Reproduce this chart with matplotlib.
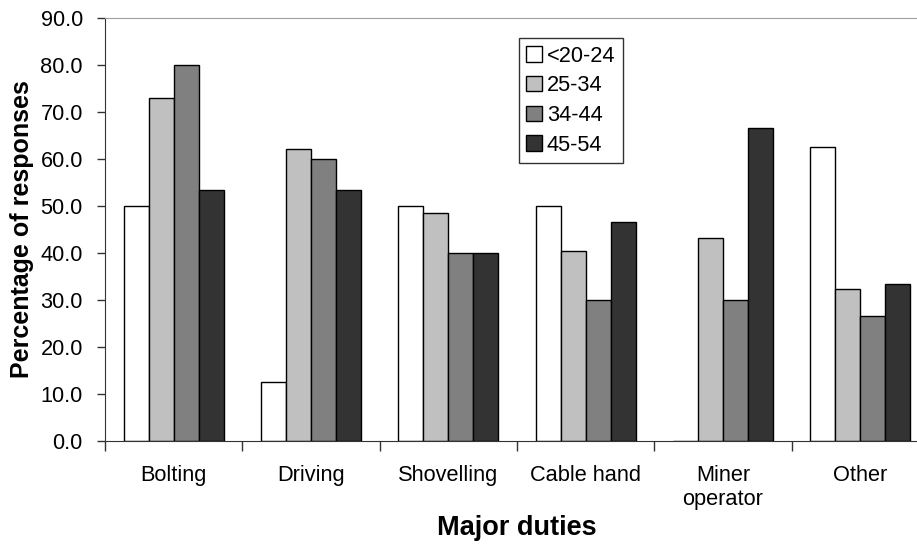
import numpy as np
import matplotlib
matplotlib.use("Agg")
import matplotlib.pyplot as plt

# responses by major duty and age group (%)
duties = ["Bolting", "Driving", "Shovelling", "Cable hand", "Miner\noperator", "Other"]
age_groups = ["<20-24", "25-34", "34-44", "45-54"]
age_20_24 = [50.0, 12.5, 50.0, 50.0, 0.0, 62.5]
age_25_34 = [73.0, 62.2, 48.6, 40.5, 43.2, 32.4]
age_34_44 = [80.0, 60.0, 40.0, 30.0, 30.0, 26.7]
age_45_54 = [53.3, 53.3, 40.0, 46.7, 66.7, 33.3]
colors = ["white", "#c0c0c0", "#808080", "#333333"]

plt.rcParams["font.family"] = ["Liberation Sans", "DejaVu Sans"]

fig = plt.figure(figsize=(9.17, 5.44), dpi=100)
ax = fig.add_axes([105 / 917, 1 - 441 / 544, 824 / 917, 423 / 544])

x = np.arange(len(duties))
width = 0.182
series = [age_20_24, age_25_34, age_34_44, age_45_54]
for i, (vals, col, lab) in enumerate(zip(series, colors, age_groups)):
    ax.bar(x + (i - 1.5) * width, vals, width, color=col, edgecolor="black",
           linewidth=1.0, label=lab)

ax.set_xlim(-0.5, len(duties) - 0.5)
ax.set_ylim(0, 90)
ax.set_yticks(np.arange(0, 91, 10))
ax.set_yticklabels(["%.1f" % v for v in np.arange(0, 91, 10)])

# group boundaries get the tick marks, names sit in between
ax.set_xticks(np.arange(-0.5, len(duties), 1.0))
ax.set_xticklabels([])
ax.set_xticks(x, minor=True)
ax.set_xticklabels(duties, minor=True)
ax.tick_params(axis="x", which="minor", length=0, pad=17, labelsize=15.7)
ax.tick_params(axis="x", which="major", length=7, width=1, color="#333333")
ax.tick_params(axis="y", length=6, width=1, pad=10, labelsize=15.7, color="#333333")

ax.spines["top"].set_color("#a0a0a0")
ax.spines["right"].set_visible(False)
ax.spines["left"].set_color("#333333")
ax.spines["bottom"].set_color("#333333")

ax.set_ylabel("Percentage of responses", fontsize=18, fontweight="bold")
ax.yaxis.set_label_coords(-0.086, 0.5)
ax.set_xlabel("Major duties", fontsize=19.5, fontweight="bold")
ax.xaxis.set_label_coords(0.5, -0.175)

leg = ax.legend(loc="upper left", bbox_to_anchor=(0.502, 0.953), borderaxespad=0,
                fontsize=15.7, fancybox=False, edgecolor="#333333", framealpha=1,
                handlelength=0.7, handleheight=0.7, handletextpad=0.25,
                labelspacing=0.4, borderpad=0.35)
leg.get_frame().set_linewidth(1.0)

fig.savefig("out.png", dpi=100)
